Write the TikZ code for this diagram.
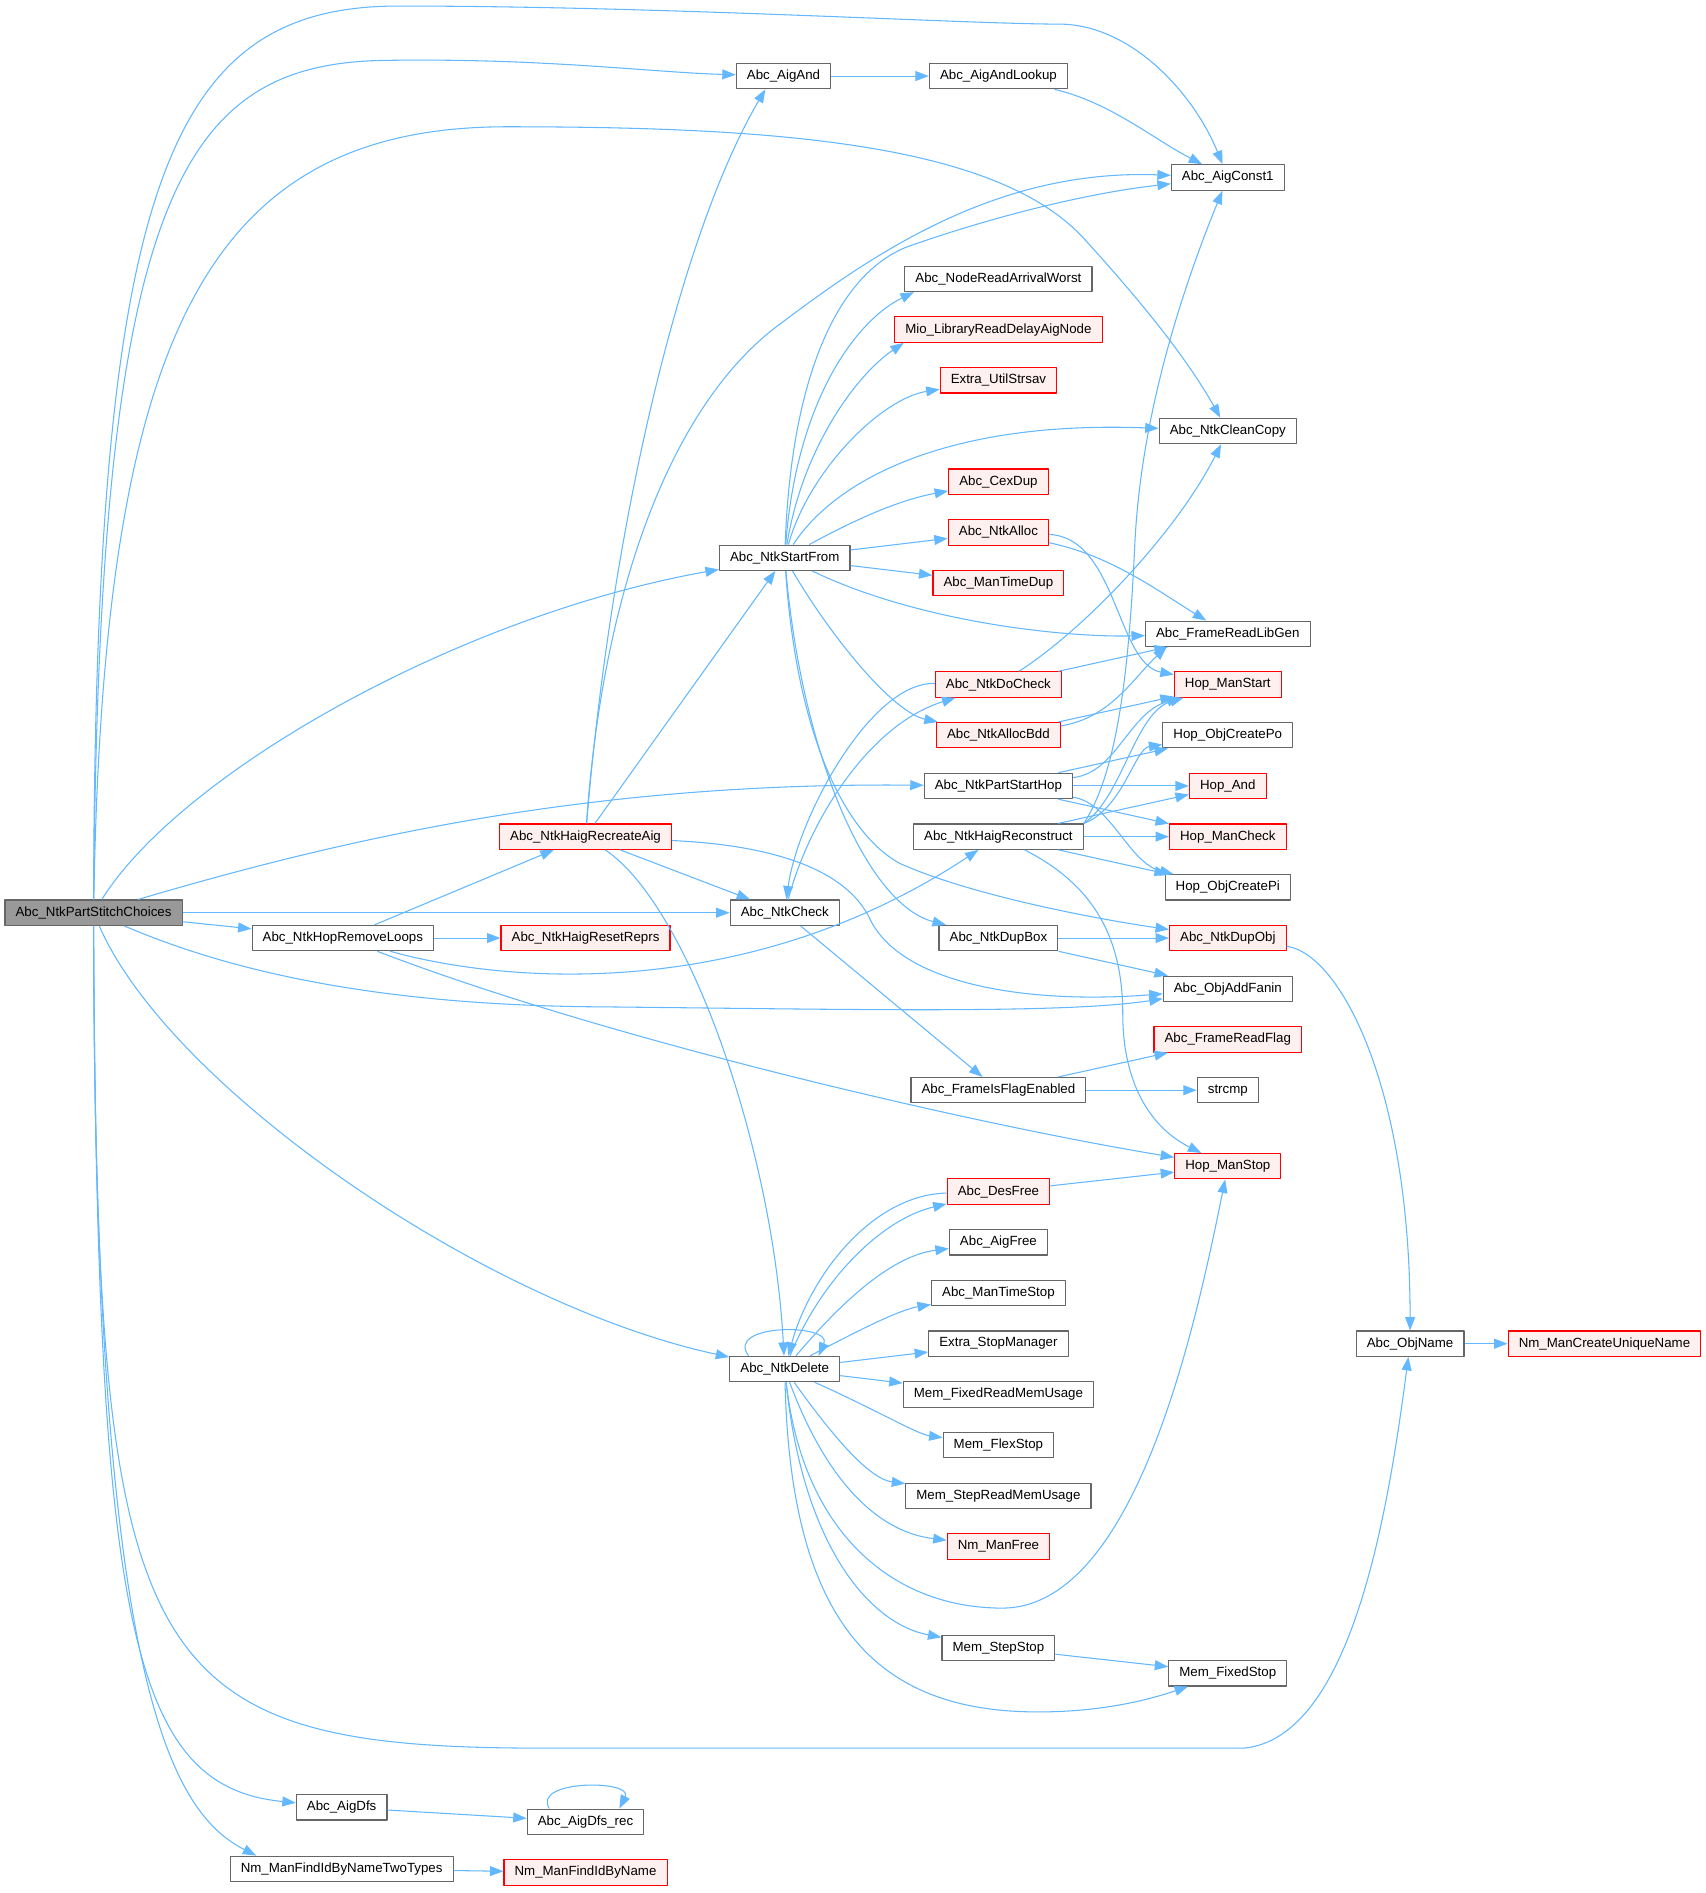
\documentclass[tikz,border=0pt]{standalone}
\usepackage{fontspec}
\setmainfont{Liberation Sans}
\usetikzlibrary{arrows.meta,calc}
\definecolor{edgeblue}{HTML}{63B8FF}
\definecolor{boxgray}{HTML}{666666}
\definecolor{rootgray}{HTML}{999999}
\definecolor{redfill}{HTML}{FFF0F0}
\begin{document}
\begin{tikzpicture}[x=0.03cm, y=-0.03cm, >={Triangle[length=9.5pt,width=7pt]},
  font=\fontsize{9.4}{11}\selectfont, line join=round,
  fn/.style={draw=boxgray, fill=white, line width=0.8pt, minimum height=0.63cm, inner xsep=7.5pt, inner ysep=0pt},
  fnred/.style={fn, draw=red, fill=redfill},
  fnroot/.style={fn, fill=rootgray},
  call/.style={->, draw=edgeblue, line width=0.75pt}]
\useasboundingbox (0,0) rectangle (1413,1568);
\fill[white] (0,0) rectangle (1413,1568);

\node[fnroot] (root) at (77.5,756) {Abc\_NtkPartStitchChoices};
\node[fn] (aigand) at (649,63) {Abc\_AigAnd};
\node[fn] (aigandlookup) at (827,63) {Abc\_AigAndLookup};
\node[fn] (aigconst) at (1017,147) {Abc\_AigConst1};
\node[fn] (nodearrival) at (827,231) {Abc\_NodeReadArrivalWorst};
\node[fnred] (mio) at (827,273) {Mio\_LibraryReadDelayAigNode};
\node[fnred] (strsav) at (827,315) {Extra\_UtilStrsav};
\node[fn] (cleancopy) at (1017,357) {Abc\_NtkCleanCopy};
\node[fnred] (cexdup) at (827,399) {Abc\_CexDup};
\node[fnred] (ntkalloc) at (827,441) {Abc\_NtkAlloc};
\node[fn] (startfrom) at (650,462) {Abc\_NtkStartFrom};
\node[fnred] (mantimedup) at (827,483) {Abc\_ManTimeDup};
\node[fn] (framelibgen) at (1017,525) {Abc\_FrameReadLibGen};
\node[fnred] (docheck) at (827,567) {Abc\_NtkDoCheck};
\node[fnred] (hopmanstart) at (1017,567) {Hop\_ManStart};
\node[fnred] (allocbdd) at (827,609) {Abc\_NtkAllocBdd};
\node[fn] (objcreatepo) at (1017,609) {Hop\_ObjCreatePo};
\node[fn] (partstarthop) at (827,651) {Abc\_NtkPartStartHop};
\node[fnred] (hopand) at (1017,651) {Hop\_And};
\node[fnred] (recreateaig) at (485,693) {Abc\_NtkHaigRecreateAig};
\node[fn] (haigreconstruct) at (827,693) {Abc\_NtkHaigReconstruct};
\node[fnred] (hopmancheck) at (1017,693) {Hop\_ManCheck};
\node[fn] (objcreatepi) at (1017,735) {Hop\_ObjCreatePi};
\node[fn] (ntkcheck) at (650,756) {Abc\_NtkCheck};
\node[fn] (hopremoveloops) at (284,777) {Abc\_NtkHopRemoveLoops};
\node[fnred] (resetreprs) at (485,777) {Abc\_NtkHaigResetReprs};
\node[fn] (dupbox) at (827,777) {Abc\_NtkDupBox};
\node[fnred] (dupobj) at (1017,777) {Abc\_NtkDupObj};
\node[fn] (objaddfanin) at (1017,819) {Abc\_ObjAddFanin};
\node[fnred] (framereadflag) at (1017,861) {Abc\_FrameReadFlag};
\node[fn] (flagenabled) at (827,903) {Abc\_FrameIsFlagEnabled};
\node[fn] (strcmp) at (1017,903) {strcmp};
\node[fnred] (hopmanstop) at (1017,966) {Hop\_ManStop};
\node[fnred] (desfree) at (827,987) {Abc\_DesFree};
\node[fn] (aigfree) at (827,1029) {Abc\_AigFree};
\node[fn] (mantimestop) at (827,1071) {Abc\_ManTimeStop};
\node[fn] (stopmanager) at (827,1113) {Extra\_StopManager};
\node[fn] (ntkdelete) at (650,1134) {Abc\_NtkDelete};
\node[fn] (objname) at (1168,1113) {Abc\_ObjName};
\node[fnred] (uniquename) at (1329,1113) {Nm\_ManCreateUniqueName};
\node[fn] (fixedreadmem) at (827,1155) {Mem\_FixedReadMemUsage};
\node[fn] (flexstop) at (827,1197) {Mem\_FlexStop};
\node[fn] (stepreadmem) at (827,1239) {Mem\_StepReadMemUsage};
\node[fnred] (nmmanfree) at (827,1281) {Nm\_ManFree};
\node[fn] (stepstop) at (827,1365) {Mem\_StepStop};
\node[fn] (fixedstop) at (1017,1386) {Mem\_FixedStop};
\node[fn] (aigdfs) at (283,1497) {Abc\_AigDfs};
\node[fn] (aigdfsrec) at (485,1509) {Abc\_AigDfs\_rec};
\node[fn] (twotypes) at (283,1548) {Nm\_ManFindIdByNameTwoTypes};
\node[fnred] (findidbyname) at (485,1551) {Nm\_ManFindIdByName};

\draw[call] (root) .. controls (79,150) and (140,5) .. (330,5) .. controls (550,5) and (800,20) .. (880,20) .. controls (940,22) and (990,80) .. (aigconst);
\draw[call] (root) .. controls (82,160) and (150,52) .. (320,50) .. controls (450,48) and (540,60) .. (aigand);
\draw[call] (root) .. controls (86,280) and (170,105) .. (420,105) .. controls (650,105) and (830,120) .. (900,200) .. controls (950,255) and (985,300) .. (cleancopy);
\draw[call] (root) .. controls (150,640) and (380,510) .. (startfrom);
\draw[call] (root) .. controls (300,690) and (500,648) .. (partstarthop);
\draw[call] (root) -- (ntkcheck);
\draw[call] (root) -- (hopremoveloops);
\draw[call] (root) .. controls (180,800) and (300,833) .. (500,834) .. controls (700,836) and (880,840) .. (objaddfanin);
\draw[call] (root) .. controls (140,900) and (400,1080) .. (ntkdelete);
\draw[call] (root) .. controls (80,1380) and (110,1448) .. (450,1448) -- (1030,1448) .. controls (1120,1440) and (1150,1250) .. (objname);
\draw[call] (root) .. controls (80,1350) and (110,1480) .. (aigdfs);
\draw[call] (root) .. controls (78,1390) and (140,1500) .. ($(twotypes.north west)+(22,0)$);

\draw[call] (hopremoveloops) -- (recreateaig);
\draw[call] (hopremoveloops) -- (resetreprs);
\draw[call] (hopremoveloops) .. controls (420,815) and (620,830) .. (haigreconstruct);
\draw[call] (hopremoveloops) .. controls (500,860) and (800,930) .. (hopmanstop);

\draw[call] (recreateaig) .. controls (505,450) and (560,200) .. ($(aigand.south)+(-15,0)$);
\draw[call] (recreateaig) .. controls (500,480) and (560,330) .. (648,267) .. controls (730,205) and (830,140) .. (aigconst);
\draw[call] (recreateaig) -- (startfrom);
\draw[call] (recreateaig) -- (ntkcheck);
\draw[call] (recreateaig) .. controls (640,700) and (700,720) .. (720,760) .. controls (745,815) and (850,832) .. (objaddfanin);
\draw[call] (recreateaig) .. controls (570,750) and (640,950) .. (ntkdelete);

\draw[call] (aigand) -- (aigandlookup);
\draw[call] (aigandlookup) .. controls (920,85) and (955,115) .. (aigconst);

\draw[call] (startfrom) .. controls (655,320) and (690,230) .. (750,205) .. controls (820,180) and (900,160) .. (aigconst);
\draw[call] (startfrom) .. controls (660,330) and (710,265) .. ($(nodearrival.south west)+(8,0)$);
\draw[call] (startfrom) .. controls (665,370) and (710,310) .. ($(mio.south west)+(8,0)$);
\draw[call] (startfrom) .. controls (670,390) and (730,330) .. (strsav);
\draw[call] (startfrom) .. controls (690,400) and (780,348) .. (cleancopy);
\draw[call] (startfrom) .. controls (700,435) and (740,415) .. (cexdup);
\draw[call] (startfrom) -- (ntkalloc);
\draw[call] (startfrom) -- (mantimedup);
\draw[call] (startfrom) .. controls (760,515) and (880,528) .. (framelibgen);
\draw[call] (startfrom) .. controls (690,530) and (740,590) .. (allocbdd);
\draw[call] (startfrom) .. controls (665,630) and (720,750) .. (dupbox);
\draw[call] (startfrom) .. controls (660,610) and (700,690) .. (745,715) .. controls (800,740) and (900,760) .. (dupobj);

\draw[call] (ntkalloc) .. controls (920,460) and (960,490) .. (framelibgen);
\draw[call] (ntkalloc) .. controls (925,445) and (925,550) .. (hopmanstart);

\draw[call] (docheck) .. controls (900,520) and (975,440) .. (cleancopy);
\draw[call] (docheck) -- (framelibgen);
\draw[call] (docheck) .. controls (720,565) and (660,680) .. (ntkcheck);
\draw[call] (ntkcheck) .. controls (670,680) and (720,600) .. (docheck);

\draw[call] (allocbdd) .. controls (920,595) and (940,560) .. ($(framelibgen.south west)+(18,0)$);
\draw[call] (allocbdd) -- (hopmanstart);

\draw[call] (partstarthop) .. controls (925,640) and (935,590) .. (hopmanstart);
\draw[call] (partstarthop) -- (objcreatepo);
\draw[call] (partstarthop) -- (hopand);
\draw[call] (partstarthop) -- (hopmancheck);
\draw[call] (partstarthop) .. controls (920,665) and (935,715) .. (objcreatepi);

\draw[call] (haigreconstruct.north east) .. controls (925,640) and (935,560) .. (940,450) .. controls (945,350) and (975,250) .. (aigconst);
\draw[call] (haigreconstruct.north east) .. controls (930,660) and (940,590) .. (hopmanstart);
\draw[call] (haigreconstruct.north east) .. controls (930,670) and (940,620) .. (objcreatepo);
\draw[call] (haigreconstruct) -- (hopand);
\draw[call] (haigreconstruct) -- (hopmancheck);
\draw[call] (haigreconstruct) -- (objcreatepi);
\draw[call] (haigreconstruct) .. controls (900,730) and (930,770) .. (930,840) .. controls (930,900) and (955,935) .. (hopmanstop);

\draw[call] (ntkcheck) -- (flagenabled);
\draw[call] (dupbox) -- (dupobj);
\draw[call] (dupbox) -- (objaddfanin);
\draw[call] (dupobj) .. controls (1110,790) and (1168,900) .. (objname);
\draw[call] (flagenabled) -- (framereadflag);
\draw[call] (flagenabled) -- (strcmp);

\draw[call] (desfree) -- (hopmanstop);
\draw[call] (desfree) .. controls (720,990) and (670,1060) .. (ntkdelete);
\draw[call] (ntkdelete) .. controls (680,1060) and (730,1010) .. (desfree);
\draw[call] ($(ntkdelete.north)+(-30,0)$) .. controls (600,1096) and (690,1096) .. ($(ntkdelete.north)+(28,0)$);
\draw[call] (ntkdelete) .. controls (700,1075) and (740,1040) .. (aigfree);
\draw[call] (ntkdelete) .. controls (715,1100) and (745,1085) .. (mantimestop);
\draw[call] (ntkdelete) -- (stopmanager);
\draw[call] (ntkdelete) -- (fixedreadmem);
\draw[call] (ntkdelete) .. controls (720,1165) and (760,1188) .. (flexstop);
\draw[call] (ntkdelete) .. controls (690,1190) and (720,1225) .. (stepreadmem);
\draw[call] (ntkdelete) .. controls (680,1215) and (720,1268) .. (nmmanfree);
\draw[call] (ntkdelete) .. controls (665,1270) and (740,1332) .. (830,1332) .. controls (940,1332) and (990,1100) .. (hopmanstop);
\draw[call] (ntkdelete) .. controls (665,1280) and (720,1345) .. (stepstop);
\draw[call] (ntkdelete) .. controls (655,1350) and (730,1418) .. (860,1418) .. controls (920,1418) and (960,1405) .. (fixedstop);
\draw[call] (stepstop) -- (fixedstop);

\draw[call] (objname) -- (uniquename);
\draw[call] (aigdfs) -- (aigdfsrec);
\draw[call] ($(aigdfsrec.north)+(-30,0)$) .. controls (440,1474) and (525,1474) .. ($(aigdfsrec.north)+(28,0)$);
\draw[call] (twotypes) -- (findidbyname);
\end{tikzpicture}
\end{document}
